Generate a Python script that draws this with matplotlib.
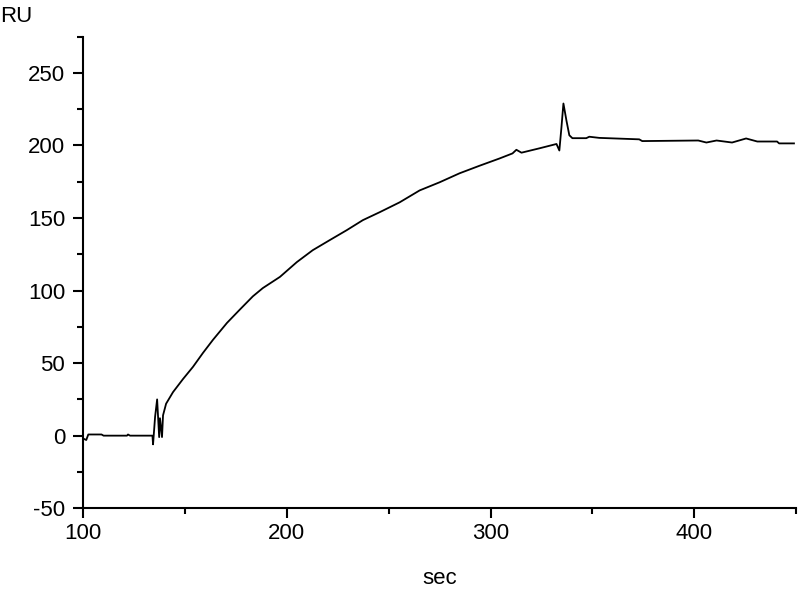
import matplotlib
matplotlib.use("Agg")
import matplotlib.pyplot as plt
from matplotlib.ticker import MultipleLocator

plt.rcParams['font.family'] = ['Liberation Sans', 'DejaVu Sans']
plt.rcParams['axes.unicode_minus'] = False

# sensorgram (time in sec, response in RU)
time_sec = [100, 101.5, 102.5, 109, 110, 121.5, 122, 123, 134,
            134.3, 135.3, 136.3, 137.3, 137.7, 138.7, 139.2, 140.7,
            144.1, 149, 153.9, 158.8, 163.7, 170.6, 177, 183.3, 188.2,
            196.6, 204.9, 212.7, 221, 229.4, 237.3, 245.6,
            255.4, 265.2, 275, 284.8, 294.6, 304.4, 310.8, 312.7, 315.2,
            324, 332.4, 333.8, 334.8, 335.8, 337.3, 338.7, 340.2, 347,
            348.5, 353.4, 373, 374.5, 402, 406, 411, 418.6, 425.5, 431,
            440.7, 441.7, 449]
response_ru = [-2, -3, 0.8, 0.8, 0, 0, 0.8, 0, 0,
               -6, 13, 25, -1, 12, -1, 14, 22,
               30, 39, 47.4, 57, 66, 77.7, 87, 96, 101.7,
               109.4, 119.6, 127.8, 134.7, 141.6, 148.5, 154,
               160.8, 169, 174.6, 180.8, 186, 191, 194.5, 197, 195,
               198, 201, 196.5, 212, 228.9, 217, 207, 205, 205,
               206, 205.2, 204.2, 203, 203.4, 202, 203.4, 202, 204.8, 202.7,
               202.7, 201.4, 201.4]

fig = plt.figure(figsize=(8, 6), dpi=100)
ax = fig.add_axes([0.104, 0.153, 0.891, 0.786])

ax.plot(time_sec, response_ru, color='black', lw=1.3)

ax.set_xlim(100, 450)
ax.set_ylim(-50, 275)
ax.xaxis.set_major_locator(MultipleLocator(100))
ax.xaxis.set_minor_locator(MultipleLocator(50))
ax.yaxis.set_major_locator(MultipleLocator(50))
ax.yaxis.set_minor_locator(MultipleLocator(25))

for side in ['top', 'right']:
    ax.spines[side].set_visible(False)
for side in ['left', 'bottom']:
    ax.spines[side].set_linewidth(1.5)

ax.tick_params(which='major', direction='out', length=7, width=1.5,
               labelsize=16, pad=4)
ax.tick_params(which='minor', direction='out', length=4, width=1.5)
ax.tick_params(axis='y', which='major', pad=6)

fig.text(440 / 800, 1 - 578 / 600, 'sec', fontsize=16, ha='center', va='center')
fig.text(0.0, 1 - 16 / 600, 'RU', fontsize=16, ha='left', va='center')

fig.savefig('out.png', dpi=100)
